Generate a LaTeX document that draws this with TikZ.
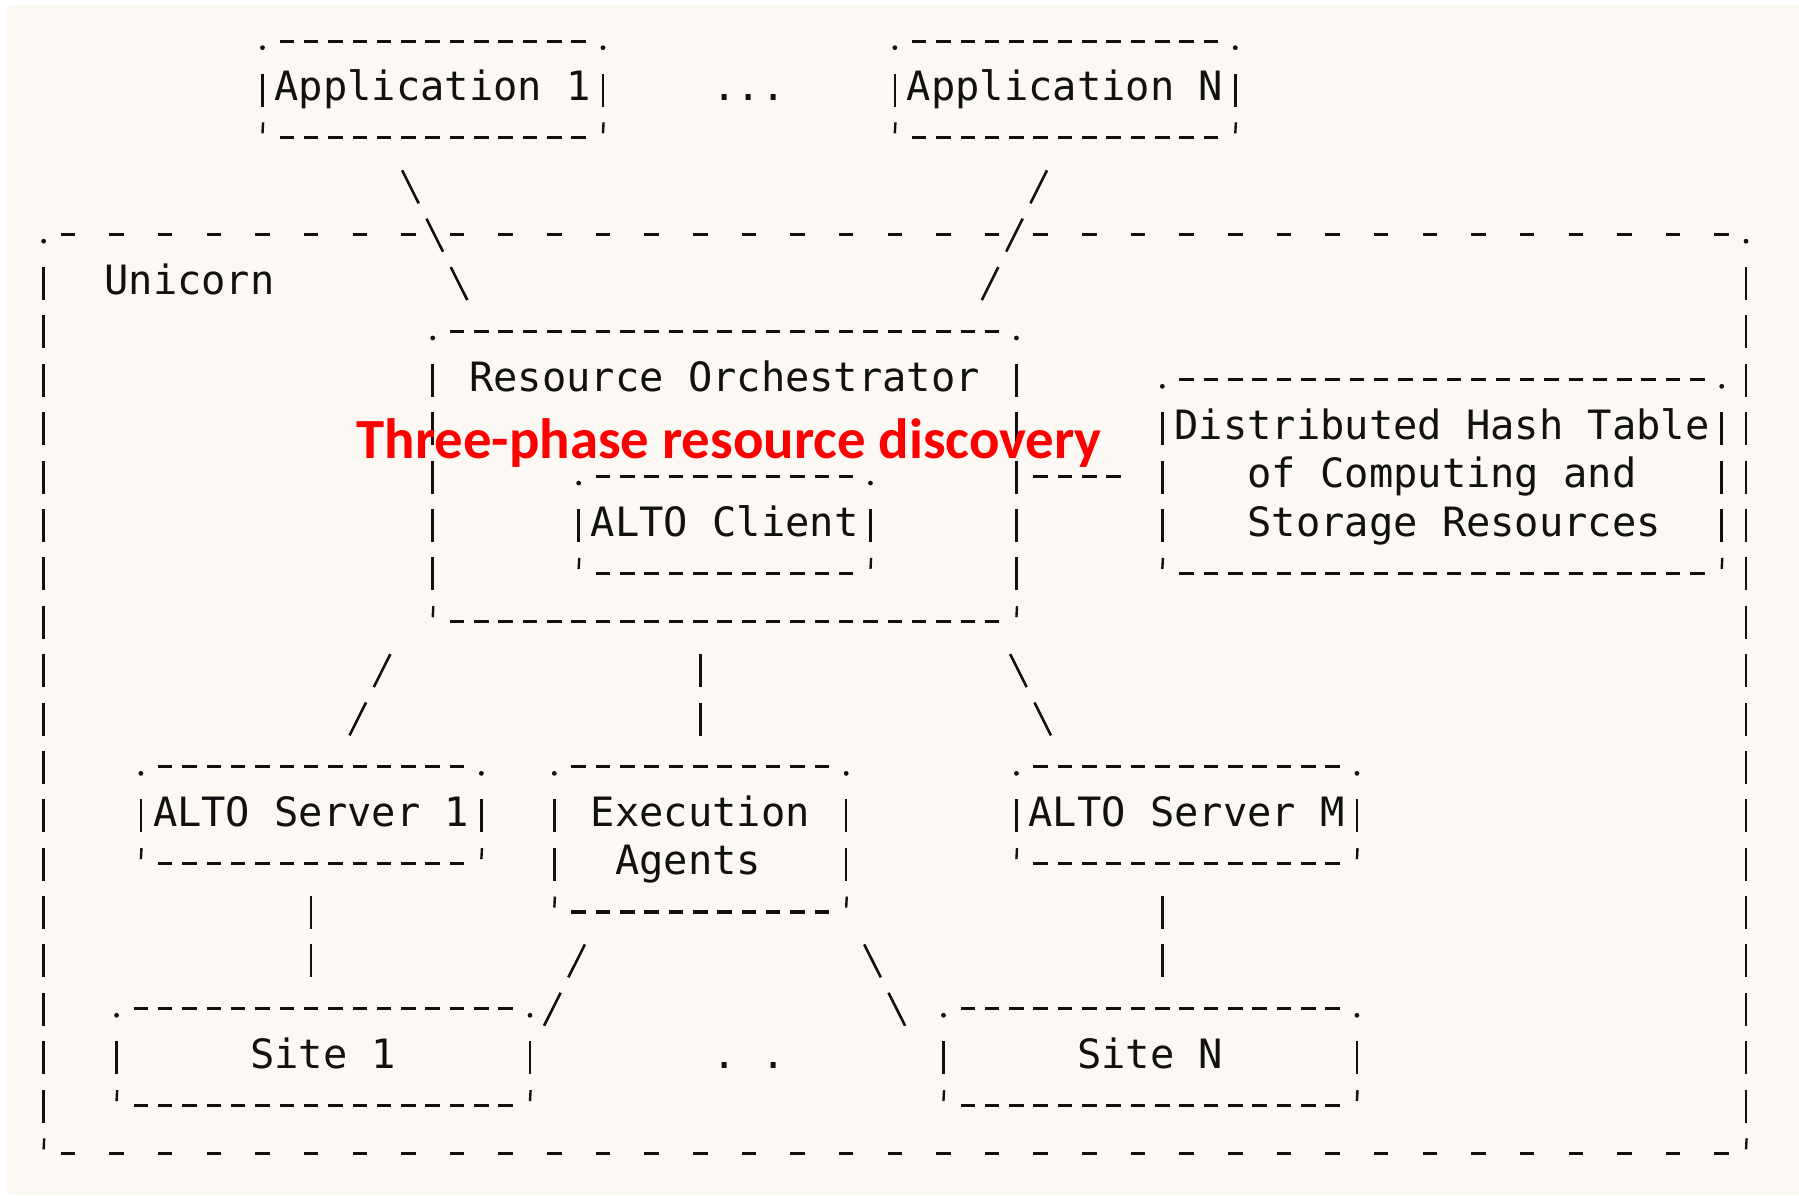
\documentclass[tikz,border=0pt]{standalone}
\usepackage{fontspec}
\newfontfamily\asciifont{DejaVu Sans Mono}
\newfontfamily\calfont{Carlito}
\usetikzlibrary{calc}
\definecolor{paper}{HTML}{FCF9F5}
\definecolor{ink}{HTML}{111111}
\definecolor{alert}{HTML}{FF0000}

\tikzset{
  boxnode/.style={rectangle, draw=none, inner sep=0pt, outer sep=0pt},
  hd/.style={ink, line width=3.1pt, dash pattern=on 14.5pt off 9.82pt},
  hdo/.style={ink, line width=3.1pt, dash pattern=on 14.5pt off 34.14pt},
  vd/.style={ink, line width=2.6pt, dash pattern=on 33pt off 15.38pt},
  vconn/.style={ink, line width=2.6pt, dash pattern=on 33pt off 15.38pt, shorten <=35.88pt, shorten >=27.88pt},
  dconn/.style={ink, line width=2.6pt, dash pattern=on 36.9pt off 17.25pt, shorten <=40.16pt, shorten >=31.2pt},
  hconn/.style={ink, line width=3.1pt, dash pattern=on 14.5pt off 9.82pt, shorten <=17.07pt, shorten >=41.39pt},
  txt/.style={font=\asciifont\fontsize{40.4pt}{48pt}\selectfont, inner sep=0pt, outer sep=0pt, anchor=base, text=ink},
  redtxt/.style={font=\calfont\bfseries\fontsize{56.8pt}{60pt}\selectfont, inner sep=0pt, anchor=base, text=alert}
}

% #1 name, #2 left col, #3 right col, #4 top row, #5 bottom row, #6 style of the horizontal edges
\newcommand\abox[6]{%
  \node[boxnode, minimum width={(#3-#2)*24.32pt}, minimum height={(#5-#4)*48.38pt}] (#1) at ({(#2+#3)/2},{(#4+#5)/2}) {};
  \draw[#6] ($(#1.north west)+(1,0)+(-7.25pt,-3.5pt)$) -- ($(#1.north east)+(-1,0)+(7.25pt,-3.5pt)$);
  \draw[#6] ($(#1.south west)+(1,0)+(-7.25pt,-3.5pt)$) -- ($(#1.south east)+(-1,0)+(7.25pt,-3.5pt)$);
  \draw[vd] ($(#1.north west)+(0,1)+(0pt,12.5pt)$) -- ($(#1.south west)+(0,-1)+(0pt,-20.5pt)$);
  \draw[vd] ($(#1.north east)+(0,1)+(0pt,12.5pt)$) -- ($(#1.south east)+(0,-1)+(0pt,-20.5pt)$);
  \fill[ink] ($(#1.north west)+(0pt,-10pt)$) circle (2.4pt);
  \fill[ink] ($(#1.north east)+(0pt,-10pt)$) circle (2.4pt);
  \draw[ink, line width=2.4pt] ($(#1.south west)+(0.6pt,12pt)$) -- ($(#1.south west)+(0pt,1pt)$);
  \draw[ink, line width=2.4pt] ($(#1.south east)+(0.6pt,12pt)$) -- ($(#1.south east)+(0pt,1pt)$);
}

\begin{document}
\begin{tikzpicture}[x=24.32pt, y=-48.38pt]
  % canvas: 1799 x 1195 px, origin at the centre of column 0, row 0
  \fill[white] (-1.7928,-0.7786) rectangle (72.179,23.922);
  \useasboundingbox (-1.7928,-0.7786) rectangle (72.179,23.922);
  \fill[paper] (-1.505,-0.675) rectangle (72.179,23.922);

  % boxes
  \abox{unicorn}{0}{70}{4}{23}{hdo}
  \abox{app1}{9}{23}{0}{2}{hd}
  \abox{appN}{35}{49}{0}{2}{hd}
  \abox{ro}{16}{40}{6}{12}{hd}
  \abox{client}{22}{34}{9}{11}{hd}
  \abox{dht}{46}{69}{7}{11}{hd}
  \abox{alto1}{4}{18}{15}{17}{hd}
  \abox{exec}{21}{33}{15}{18}{hd}
  \abox{altoM}{40}{54}{15}{17}{hd}
  \abox{site1}{3}{20}{20}{22}{hd}
  \abox{siteN}{37}{54}{20}{22}{hd}

  % connectors
  \draw[dconn] ($(app1.south west)+(5,0)$) -- ($(ro.north west)+(2,0)$);
  \draw[dconn] ($(appN.south west)+(7,0)$) -- ($(ro.north east)+(-2,0)$);
  \draw[hconn] ($(ro.east)+(0pt,-3.5pt)$) -- ($(dht.west)+(0pt,-3.5pt)$);
  \draw[dconn] ($(ro.south west)+(-1,0)$) -- ($(alto1.north west)+(8,0)$);
  \draw[vconn] ($(ro.south west)+(11,0)$) -- ($(exec.north west)+(6,0)$);
  \draw[dconn] ($(ro.south east)+(-1,0)$) -- ($(altoM.north west)+(2,0)$);
  \draw[vconn] ($(alto1.south west)+(7,0)$) -- ($(site1.north west)+(8,0)$);
  \draw[dconn] ($(exec.south west)+(2,0)$) -- (site1.east);
  \draw[dconn] (exec.south east) -- ($(siteN.west)+(-1,0)$);
  \draw[vconn] ($(altoM.south west)+(6,0)$) -- ($(siteN.north west)+(9,0)$);

  % texts
  \node[txt] (t-app1) at ([yshift=-14.7pt]16,1) {Application 1};
  \node[txt] (t-dots) at ([yshift=-14.7pt]29,1) {...};
  \node[txt] (t-appN) at ([yshift=-14.7pt]42,1) {Application N};
  \node[txt] (t-unicorn) at ([yshift=-14.7pt]6,5) {Unicorn};
  \node[txt] (t-ro) at ([yshift=-14.7pt]28,7) {Resource Orchestrator};
  \node[txt] (t-client) at ([yshift=-14.7pt]28,10) {ALTO Client};
  \node[txt] (t-dht1) at ([yshift=-14.7pt]57.5,8) {Distributed Hash Table};
  \node[txt] (t-dht2) at ([yshift=-14.7pt]57.5,9) {of Computing and};
  \node[txt] (t-dht3) at ([yshift=-14.7pt]58,10) {Storage Resources};
  \node[txt] (t-alto1) at ([yshift=-14.7pt]11,16) {ALTO Server 1};
  \node[txt] (t-exec1) at ([yshift=-14.7pt]27,16) {Execution};
  \node[txt] (t-exec2) at ([yshift=-14.7pt]26.5,17) {Agents};
  \node[txt] (t-altoM) at ([yshift=-14.7pt]47,16) {ALTO Server M};
  \node[txt] (t-site1) at ([yshift=-14.7pt]11.5,21) {Site 1};
  \node[txt] (t-sdots) at ([yshift=-14.7pt]29,21) {.\ .};
  \node[txt] (t-siteN) at ([yshift=-14.7pt]45.5,21) {Site N};

  % overlay caption
  \node[redtxt] (phase) at (28.19,8.694) {Three-phase resource discovery};
\end{tikzpicture}
\end{document}
